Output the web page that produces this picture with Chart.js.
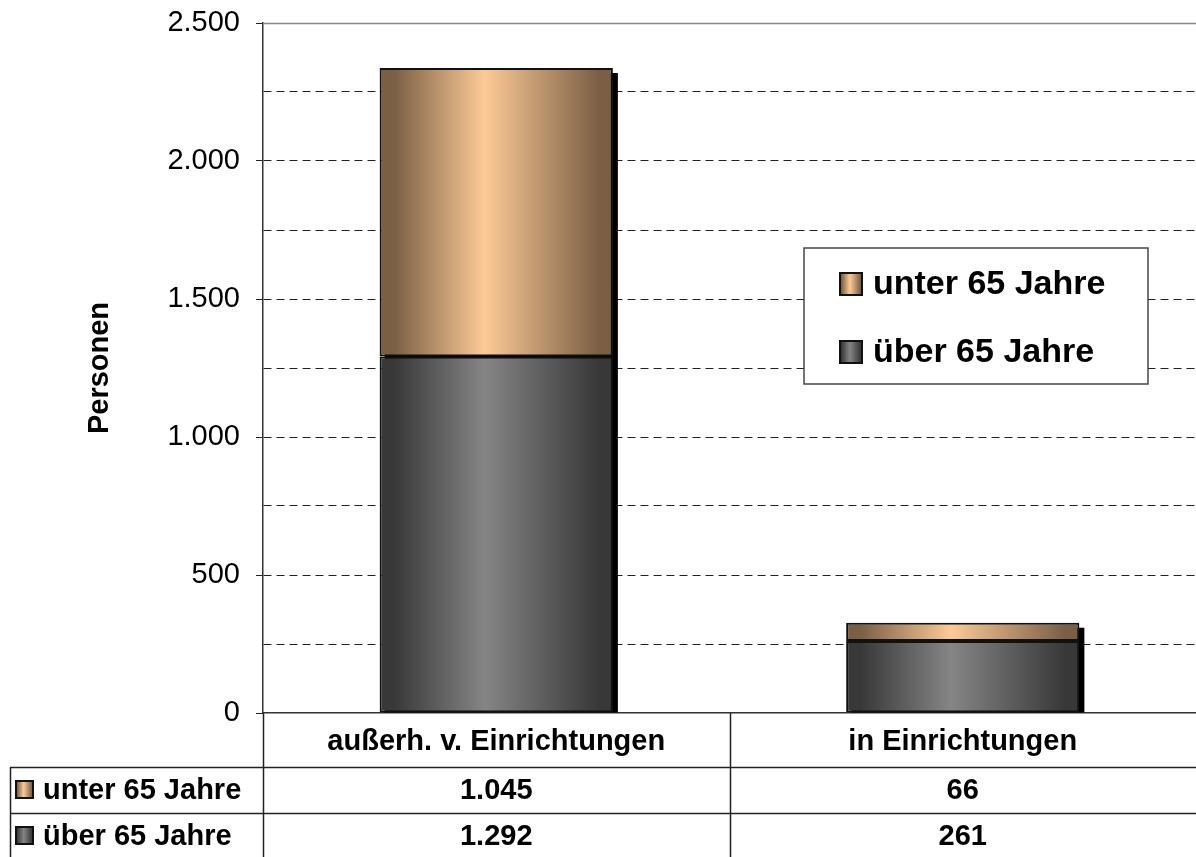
<!DOCTYPE html>
<html lang="de">
<head>
<meta charset="UTF-8">
<title>Personen</title>
<script src="https://cdn.jsdelivr.net/npm/chart.js"></script>
<style>
  html, body { margin: 0; padding: 0; background: #fff; }
  #chart { display: block; }
</style>
</head>
<body>
<canvas id="chart" width="1196" height="857"></canvas>
<script>
// data
const categories = ['außerh. v. Einrichtungen', 'in Einrichtungen'];
const seriesNames = ['unter 65 Jahre', 'über 65 Jahre'];
const unter65 = [1045, 66];
const ueber65 = [1292, 261];
const yMax = 2500;
const yStep = 250;
const yLabelStep = 500;

// colours: [dark edge, light centre]
const peach = ['#7a5f45', '#fdca96'];
const grey = ['#383838', '#858585'];

const FONT = '"Liberation Sans", Arial, sans-serif';
Chart.defaults.font.family = FONT;
Chart.defaults.color = '#000';

function fmt(v) {
  return String(v).replace(/\B(?=(\d{3})+(?!\d))/g, '.');
}

function makeGradient(ctx, x1, x2, cols) {
  const g = ctx.createLinearGradient(x1, 0, x2, 0);
  g.addColorStop(0, cols[0]);
  g.addColorStop(0.06, cols[0]);
  g.addColorStop(0.45, cols[1]);
  g.addColorStop(0.94, cols[0]);
  g.addColorStop(1, cols[0]);
  return g;
}

// horizontal gradient per bar, from the x scale
function barFill(cols) {
  return function (c) {
    const chart = c.chart;
    const xs = chart.scales.x;
    if (!xs || !chart.chartArea) return cols[1];
    const cx = xs.getPixelForValue(c.dataIndex);
    const half = xs.width / categories.length * 0.5 / 2;
    return makeGradient(chart.ctx, cx - half, cx + half, cols);
  };
}

function drawKey(ctx, x, y, size, cols) {
  ctx.fillStyle = makeGradient(ctx, x, x + size, cols);
  ctx.fillRect(x, y, size, size);
  ctx.lineWidth = 2;
  ctx.strokeStyle = '#111';
  ctx.strokeRect(x, y, size, size);
}

// black drop shadow behind each stack
const shadowPlugin = {
  id: 'shadow',
  beforeDatasetsDraw(chart) {
    const ctx = chart.ctx;
    const lower = chart.getDatasetMeta(0).data;
    const upper = chart.getDatasetMeta(1).data;
    ctx.save();
    ctx.fillStyle = '#000';
    upper.forEach((bar, i) => {
      const base = lower[i].base;
      ctx.fillRect(bar.x - bar.width / 2 + 5, bar.y + 5, bar.width, base - bar.y - 5);
    });
    ctx.restore();
  }
};

// top border, legend box and data table
const extrasPlugin = {
  id: 'extras',
  afterDraw(chart) {
    const ctx = chart.ctx;
    const area = chart.chartArea;
    const xs = chart.scales.x;
    const H = chart.height;
    ctx.save();

    // plot top border
    ctx.strokeStyle = '#888';
    ctx.lineWidth = 1.5;
    ctx.beginPath();
    ctx.moveTo(area.left, area.top + 0.5);
    ctx.lineTo(area.right, area.top + 0.5);
    ctx.stroke();

    // legend box
    const lx = area.left + 541, ly = area.top + 225, lw = 344, lh = 136;
    ctx.fillStyle = '#fff';
    ctx.fillRect(lx, ly, lw, lh);
    ctx.strokeStyle = '#444';
    ctx.lineWidth = 1.5;
    ctx.strokeRect(lx, ly, lw, lh);
    ctx.font = 'bold 34px ' + FONT;
    ctx.textBaseline = 'middle';
    ctx.textAlign = 'left';
    const keyCols = [peach, grey];
    seriesNames.forEach((name, i) => {
      const cy = ly + 36 + i * 68;
      drawKey(ctx, lx + 36, cy - 11, 22, keyCols[i]);
      ctx.fillStyle = '#000';
      ctx.fillText(name, lx + 69, cy + 1);
    });

    // data table
    const tTop = xs.bottom;
    const rowH = 46;
    const tLeft = 10;
    ctx.strokeStyle = '#222';
    ctx.lineWidth = 1.5;
    ctx.beginPath();
    for (let r = 0; r < 2; r++) {
      const y = Math.round(tTop + r * rowH) + 0.5;
      ctx.moveTo(tLeft, y);
      ctx.lineTo(area.right, y);
    }
    ctx.moveTo(tLeft + 0.5, tTop);
    ctx.lineTo(tLeft + 0.5, H);
    ctx.moveTo(area.left + 0.5, area.bottom);
    ctx.lineTo(area.left + 0.5, H);
    const mid = (xs.getPixelForValue(0) + xs.getPixelForValue(1)) / 2;
    ctx.moveTo(Math.round(mid) + 0.5, area.bottom);
    ctx.lineTo(Math.round(mid) + 0.5, H);
    ctx.stroke();

    const rows = [unter65, ueber65];
    ctx.font = 'bold 29px ' + FONT;
    rows.forEach((vals, r) => {
      const cy = tTop + r * rowH + rowH / 2;
      drawKey(ctx, tLeft + 6, cy - 9, 17, keyCols[r]);
      ctx.fillStyle = '#000';
      ctx.textAlign = 'left';
      ctx.fillText(seriesNames[r], tLeft + 33, cy + 1);
      ctx.textAlign = 'center';
      vals.forEach((v, i) => {
        ctx.fillText(fmt(v), xs.getPixelForValue(i), cy + 1);
      });
    });
    ctx.restore();
  }
};

new Chart(document.getElementById('chart'), {
  type: 'bar',
  data: {
    labels: categories,
    datasets: [
      {
        label: seriesNames[1],
        data: ueber65,
        backgroundColor: barFill(grey),
        borderColor: '#111',
        borderWidth: 2,
        borderSkipped: false
      },
      {
        label: seriesNames[0],
        data: unter65,
        backgroundColor: barFill(peach),
        borderColor: '#111',
        borderWidth: 2,
        borderSkipped: false
      }
    ]
  },
  options: {
    responsive: false,
    animation: false,
    layout: { padding: { top: 23, right: 0, bottom: 90, left: 0 } },
    datasets: { bar: { categoryPercentage: 1, barPercentage: 0.5 } },
    plugins: {
      legend: { display: false },
      tooltip: { enabled: false }
    },
    scales: {
      x: {
        stacked: true,
        grid: { display: false, drawTicks: false },
        border: { display: true, color: '#333', width: 1.5 },
        ticks: { font: { size: 29, weight: 'bold' }, padding: 12, maxRotation: 0 },
        afterFit: s => { s.height = 54; s.paddingLeft = 0; s.paddingRight = 0; }
      },
      y: {
        stacked: true,
        min: 0,
        max: yMax,
        afterFit: s => { s.width = 263; s.paddingTop = 0; s.paddingBottom = 0; },
        title: {
          display: true,
          text: 'Personen',
          font: { size: 29, weight: 'bold' },
          padding: { top: 83, bottom: 0 }
        },
        ticks: {
          stepSize: yStep,
          padding: 16,
          font: { size: 29 },
          callback: v => (v % yLabelStep === 0 ? fmt(v) : '')
        },
        grid: {
          color: c => (c.tick && (c.tick.value === 0 || c.tick.value === yMax) ? 'rgba(0,0,0,0)' : '#222'),
          tickColor: c => (c.tick && c.tick.value % yLabelStep === 0 ? '#222' : 'rgba(0,0,0,0)'),
          tickLength: 7,
          lineWidth: 1
        },
        border: { display: true, color: '#333', width: 1.5, dash: [8, 5] }
      }
    }
  },
  plugins: [shadowPlugin, extrasPlugin]
});
</script>
</body>
</html>
